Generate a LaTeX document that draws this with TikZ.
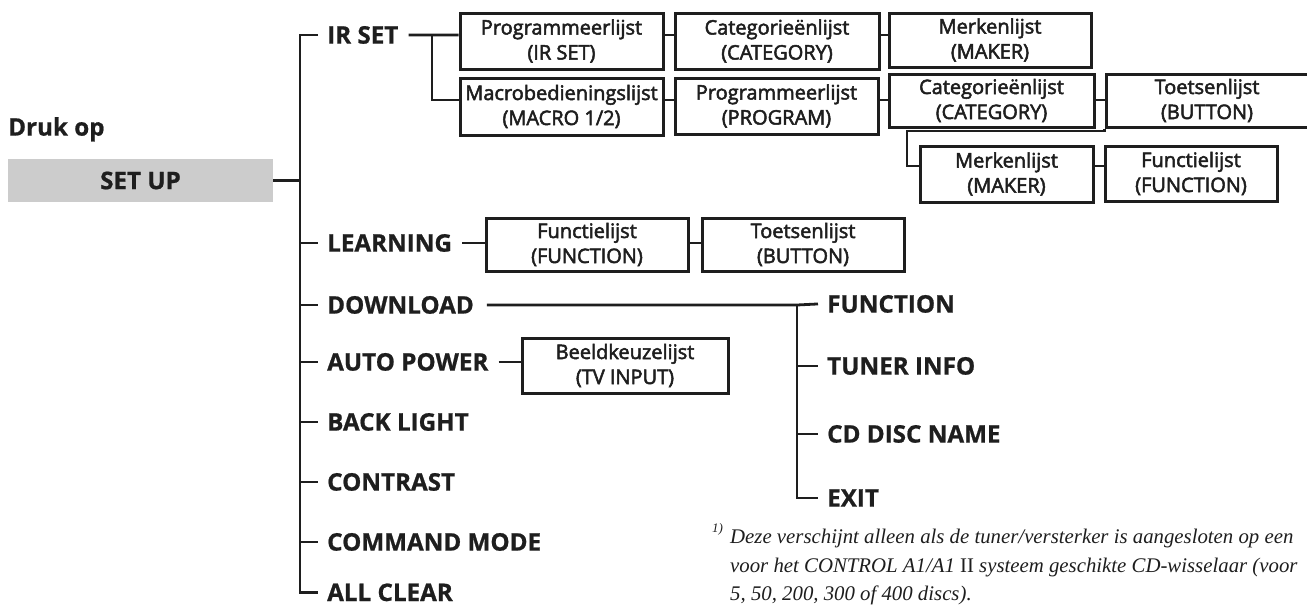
\documentclass[tikz,border=0pt]{standalone}
\usepackage{fontspec}
\setmainfont{Open Sans}[BoldFeatures={FakeBold=0.8}]
\newfontfamily\boxfont{Open Sans}[FakeBold=2.5]
\newfontfamily\notefont{Liberation Serif}
\definecolor{ink}{HTML}{1E1E1E}
\definecolor{keyfill}{HTML}{CCCCCC}
\tikzset{
  lbl/.style={anchor=base west, inner sep=0pt, text=ink,
    font=\fontsize{24.2}{29}\selectfont\bfseries},
  listbox/.style={draw=ink, line width=3pt, rectangle, inner sep=0pt,
    align=center, minimum height=55pt, text=ink,
    font=\boxfont\fontsize{20}{25}\selectfont},
  wire/.style={draw=ink, line width=2.8pt, line join=miter},
  note/.style={anchor=base west, inner sep=0pt, text=ink,
    font=\notefont\itshape\fontsize{20.8}{25}\selectfont},
}
\begin{document}
\begin{tikzpicture}[x=1pt, y=-1pt]
\fill[white] (0,0) rectangle (1307,606);
\useasboundingbox (0,0) rectangle (1307,606);

% start key
\node[lbl] (druk) at (8,135.6) {Druk op};
\node[fill=keyfill, minimum width=265pt, minimum height=43pt, inner sep=0pt,
      text=ink, font=\fontsize{24.2}{29}\selectfont\bfseries] (setup) at (140.5,180.5) {SET UP};

% main menu items
\node[lbl] (irset)     at (327,43.6)  {IR SET};
\node[lbl] (learning)  at (327,251.6) {LEARNING};
\node[lbl] (download)  at (327,313.6) {DOWNLOAD};
\node[lbl] (autopower) at (327,370.6) {AUTO POWER};
\node[lbl] (backlight) at (327,430.6) {BACK LIGHT};
\node[lbl] (contrast)  at (327,490.6) {CONTRAST};
\node[lbl] (command)   at (327,550.6) {COMMAND MODE};
\node[lbl] (allclear)  at (327,601) {ALL CLEAR};

% download sub-items
\node[lbl] (function) at (827,312.6) {FUNCTION};
\node[lbl] (tuner)    at (827,374.6) {TUNER INFO};
\node[lbl] (cddisc)   at (827,442.6) {CD DISC NAME};
\node[lbl] (exit)     at (827,506.6) {EXIT};

% IR SET lists
\node[listbox, minimum width=203pt, minimum height=56pt] (P1) at (561.5,41) {Programmeerlijst\\(IR SET)};
\node[listbox, minimum width=204pt, minimum height=56pt] (C1) at (777,41) {Categorieënlijst\\(CATEGORY)};
\node[listbox, minimum width=202pt, minimum height=54pt] (M1) at (990,40) {Merkenlijst\\(MAKER)};
\node[listbox, minimum width=203pt, minimum height=57pt] (Mac) at (561.5,106.5) {Macrobedieningslijst\\(MACRO 1/2)};
\node[listbox, minimum width=203pt, minimum height=56pt] (P2) at (776.5,106) {Programmeerlijst\\(PROGRAM)};
\node[listbox, minimum width=205pt, minimum height=53pt] (C2) at (991.5,100.5) {Categorieënlijst\\(CATEGORY)};
\node[listbox, minimum width=202pt, minimum height=53pt] (T2) at (1207,100.5) {Toetsenlijst\\(BUTTON)};
\node[listbox, minimum width=173pt, minimum height=56pt] (Mk2) at (1006.5,174) {Merkenlijst\\(MAKER)};
\node[listbox, minimum width=172pt, minimum height=55pt] (Fn2) at (1191,173.5) {Functielijst\\(FUNCTION)};

% LEARNING lists
\node[listbox, minimum width=202pt, minimum height=53pt] (LF) at (587,244.5) {Functielijst\\(FUNCTION)};
\node[listbox, minimum width=202pt, minimum height=53pt] (LT) at (803,244.5) {Toetsenlijst\\(BUTTON)};

% AUTO POWER list
\node[listbox, minimum width=206pt, minimum height=55pt] (BK) at (625,365.5) {Beeldkeuzelijst\\(TV INPUT)};

% main trunk
\coordinate (trunk) at (300,0);
\draw[wire] ([xshift=-9pt]irset.west) -| (trunk |- allclear.west) -- ([xshift=-9pt]allclear.west);
\foreach \n in {learning,download,autopower,backlight,contrast,command}
  \draw[wire] (\n.west -| trunk) -- ([xshift=-9pt]\n.west);
\draw[wire] (setup.east) -- (setup.east -| trunk);

% IR SET branch
\coordinate (irj)  at (432,35);
\coordinate (irj2) at (432,100);
\coordinate (wrap) at (907,131);
\coordinate (r3)   at (0,166);
\draw[wire] ([xshift=10pt]irset.east) -- (irj) -- (P1.west |- irj);
\draw[wire] (irj) -- (irj2) -- (Mac.west |- irj2);
\draw[wire] (P1.east |- irj) -- (C1.west |- irj);
\draw[wire] (C1.east |- irj) -- (M1.west |- irj);
\draw[wire] (Mac.east |- irj2) -- (P2.west |- irj2);
\draw[wire] (P2.east |- irj2) -- (C2.west |- irj2);
\draw[wire] (C2.east |- irj2) -- (T2.west |- irj2);
\draw[wire] (T2.south west) |- (wrap) |- (Mk2.west |- r3);
\draw[wire] (Mk2.east |- r3) -- (Fn2.west |- r3);

% LEARNING branch
\draw[wire] ([xshift=10pt]learning.east) -- (LF.west |- learning.west);
\draw[wire] (LF.east |- learning.west) -- (LT.west |- learning.west);

% AUTO POWER branch
\draw[wire] ([xshift=10pt]autopower.east) -- (BK.west |- autopower.west);

% DOWNLOAD branch
\coordinate (dlj) at (797,305);
\draw[wire] ([xshift=13pt]download.east) -- (dlj) -- ([xshift=-9pt]function.west);
\draw[wire] (dlj) |- ([xshift=-9pt]exit.west);
\foreach \n in {tuner,cddisc}
  \draw[wire] (\n.west -| dlj) -- ([xshift=-9pt]\n.west);

% footnote
\node[note, font=\notefont\itshape\fontsize{13}{15}\selectfont] (fnmark) at (712,532) {1)};
\node[note] (fn1) at (730,543) {Deze verschijnt alleen als de tuner/versterker is aangesloten op een};
\node[note] (fn2) at (730,572) {voor het CONTROL A1/A1 \textup{II} systeem geschikte CD-wisselaar (voor};
\node[note] (fn3) at (730,600) {5, 50, 200, 300 of 400 discs).};
\end{tikzpicture}
\end{document}
